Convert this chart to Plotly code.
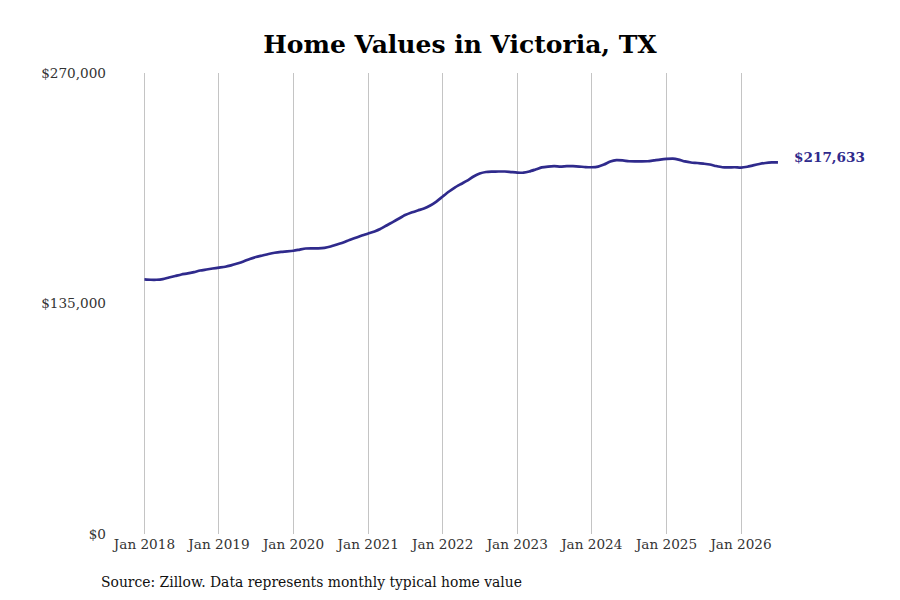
import plotly.graph_objects as go
import pandas as pd

dates = pd.date_range("2018-01-01", "2026-07-01", freq="MS")

values = [
    # 2018
    149100, 148900, 148900, 149300, 150200, 151100, 152000, 152600, 153400, 154300, 154900, 155500,
    # 2019
    156000, 156500, 157300, 158400, 159600, 161100, 162200, 163100, 164000, 164700, 165200, 165500,
    # 2020
    165900, 166600, 167200, 167300, 167300, 167600, 168400, 169600, 170700, 172200, 173500, 174800,
    # 2021
    176000, 177200, 178600, 180700, 182700, 184800, 186800, 188300, 189500, 190600, 192400, 194700,
    # 2022
    197700, 200600, 202900, 205000, 207000, 209400, 211100, 212000, 212200, 212300, 212300, 212000,
    # 2023
    211700, 211600, 212300, 213500, 214700, 215200, 215400, 215200, 215400, 215400, 215200, 214900,
    # 2024
    214800, 215200, 216400, 218200, 219000, 218800, 218300, 218200, 218200, 218300, 218800, 219300,
    # 2025
    219700, 219900, 219300, 218200, 217600, 217300, 216900, 216400, 215500, 214800, 214700, 214800,
    # 2026
    214600, 215100, 215900, 216700, 217300, 217600, 217633,
]

y_ticks = [0, 135000, 270000]
y_tick_labels = ["$0", "$135,000", "$270,000"]
x_ticks = [f"{y}-01-01" for y in range(2018, 2027)]
x_tick_labels = [f"Jan {y}" for y in range(2018, 2027)]

title_text = "Home Values in Victoria, TX"
source_text = "Source: Zillow. Data represents monthly typical home value"
last_label = f"${values[-1]:,}"

line_color = "#2f2a8c"
serif = "DejaVu Serif"

# first data point at x=144, last at x=778; y axis 73..534
X0, X1, PT, PB = 144, 778, 73, 534
t0, t1 = pd.Timestamp(dates[0]), pd.Timestamp(dates[-1])
ppd = (X1 - X0) / (t1 - t0).days
pad_l, pad_r = pd.Timedelta(days=12), pd.Timedelta(days=10)
PL = X0 - pad_l.days * ppd
PR = X1 + pad_r.days * ppd
pw, ph = PR - PL, PB - PT

fig = go.Figure()
fig.add_trace(go.Scatter(
    x=dates, y=values, mode="lines",
    line=dict(color=line_color, width=2.7, shape="spline", smoothing=0.6),
    hoverinfo="skip", showlegend=False,
))

fig.add_annotation(
    x=dates[-1], y=values[-1], xref="x", yref="y",
    text=f"<b>{last_label}</b>", showarrow=False,
    xanchor="left", yanchor="middle", xshift=14, yshift=5,
    font=dict(family=serif, size=13.6, color=line_color),
)

fig.add_annotation(
    x=(99 - PL) / pw, y=(PB - 582) / ph, xref="paper", yref="paper",
    text=source_text, showarrow=False,
    xanchor="left", yanchor="middle",
    font=dict(family=serif, size=13.9, color="#111111"),
)

fig.update_layout(
    width=900, height=600,
    margin=dict(l=PL, r=900 - PR, t=PT, b=600 - PB, autoexpand=False),
    paper_bgcolor="white", plot_bgcolor="white",
    title=dict(text=f"<b>{title_text}</b>", x=460 / 900, xanchor="center",
               y=1 - 44 / 600, yanchor="middle",
               font=dict(family=serif, size=25, color="#000000")),
    xaxis=dict(
        range=[t0 - pad_l, t1 + pad_r],
        tickvals=x_ticks, ticktext=x_tick_labels,
        showgrid=True, gridcolor="#c4c4c4", gridwidth=1,
        showline=False, zeroline=False, ticks="",
        tickfont=dict(family=serif, size=13.6, color="#333333"),
    ),
    yaxis=dict(
        range=[0, 270000],
        tickvals=y_ticks, ticktext=y_tick_labels,
        showgrid=False, zeroline=False, showline=False, ticks="",
        ticklabelstandoff=int(round(37 - (X0 - PL))),
        tickfont=dict(family=serif, size=13.6, color="#333333"),
    ),
)

fig.write_html("out.html", config={"displayModeBar": False},
               post_script="document.body.style.margin='0';")
